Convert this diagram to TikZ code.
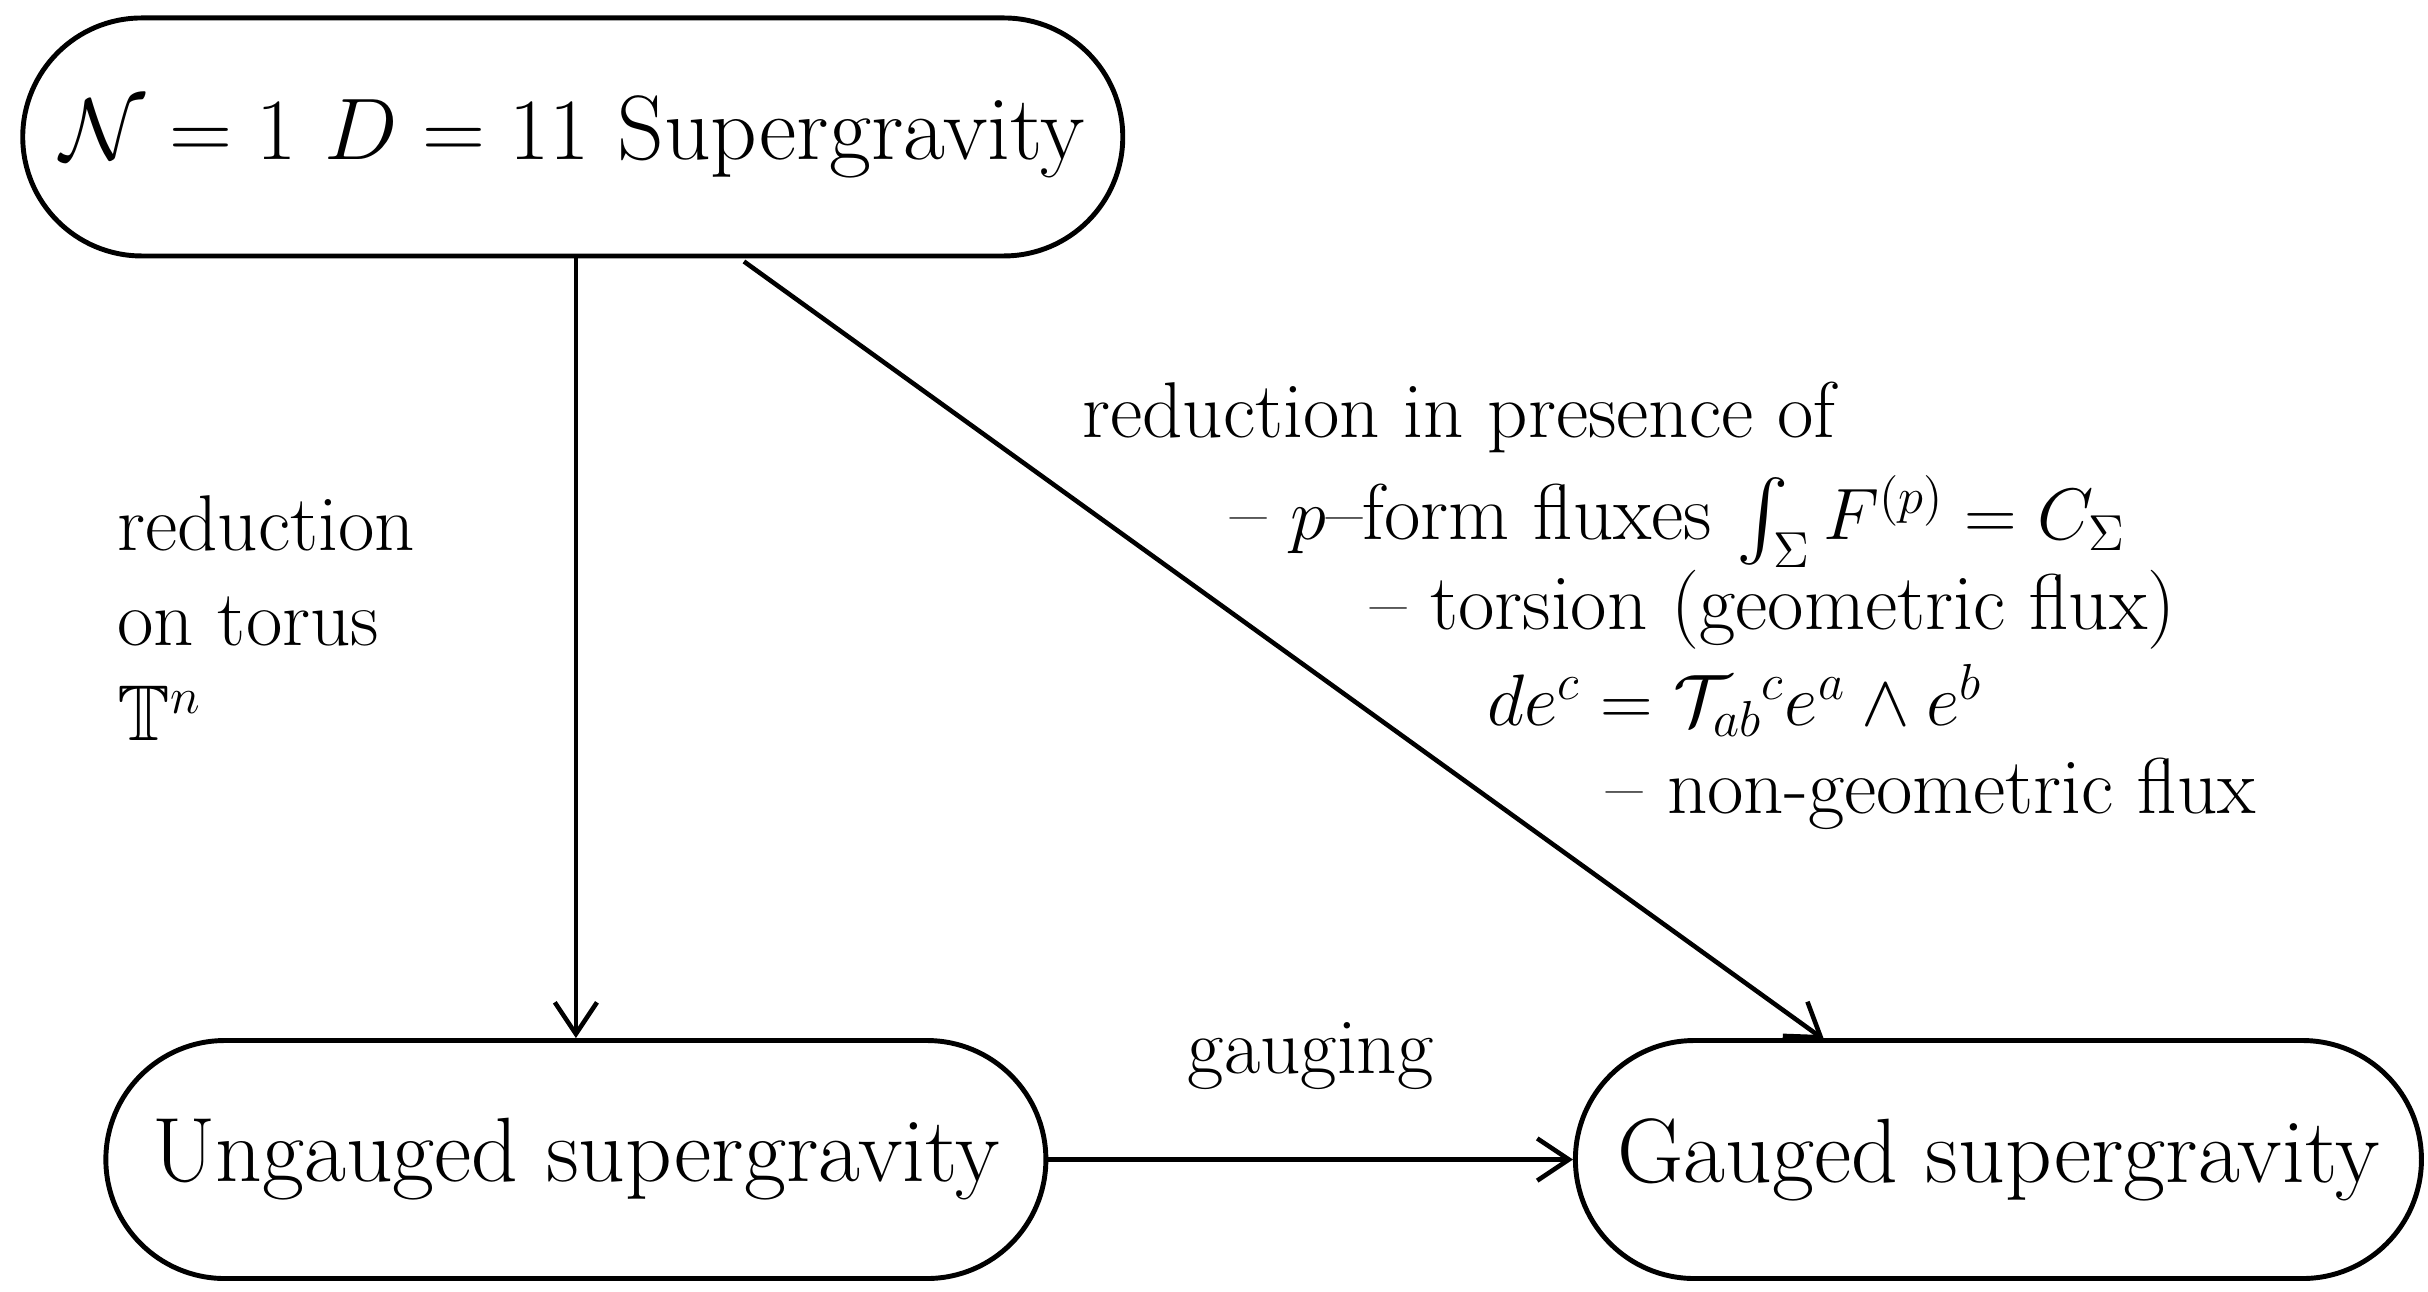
\documentclass[tikz,border=0pt]{standalone}
\usepackage{amsmath,amssymb}
\usetikzlibrary{arrows.meta}
\begin{document}
\begin{tikzpicture}[x=0.01556cm,y=-0.01556cm,
  box/.style={draw,line width=1.4pt,rounded corners=1.19cm,minimum height=2.38cm,inner sep=0pt,font=\fontsize{26}{31}\selectfont},
  arr/.style={line width=1.3pt,-{Straight Barb[length=9pt,width=12pt]}},
  lab/.style={font=\fontsize{22.5}{27}\selectfont,inner sep=0pt,anchor=west}]
\useasboundingbox (0,0) rectangle (1560,830);
\node[box,minimum width=11.0cm] (top) at (368,88) {$\mathcal{N}=1$ $D=11$ Supergravity};
\node[box,minimum width=9.4cm] (ung) at (370,745) {Ungauged supergravity};
\node[box,minimum width=8.46cm] (gau) at (1284,745) {Gauged supergravity};
\coordinate (d1) at (478,168);
\coordinate (d2) at (1172,668);
\draw[arr] (top.south -| ung.north) -- (ung.north);
\draw[arr] (d1) -- (d2);
\draw[arr] (ung.east) -- node[above=16pt,font=\fontsize{22.5}{27}\selectfont] (g) {gauging} (gau.west);
\node[lab,align=left,anchor=north west] (t1) at (75,318) {reduction\\on torus\\$\mathbb{T}^n$};
\node[lab] (r0) at (695,268) {reduction in presence of};
\node[lab] (r1) at (790,335) {-- $p$--form fluxes $\int_\Sigma F^{(p)}=C_\Sigma$};
\node[lab] (r2) at (880,392) {-- torsion (geometric flux)};
\node[lab] (r3) at (955,450) {$de^c=\mathcal{T}_{ab}{}^c e^a\wedge e^b$};
\node[lab] (r4) at (1032,510) {-- non-geometric flux};
\end{tikzpicture}
\end{document}
